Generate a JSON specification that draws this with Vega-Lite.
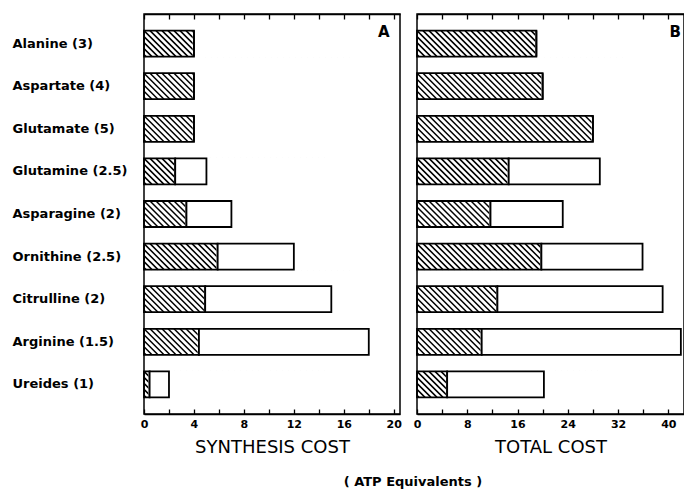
{
  "$schema": "https://vega.github.io/schema/vega-lite/v6.json",
  "padding": {"left": 11, "top": 12, "right": 0, "bottom": 0},
  "background": "white",
  "datasets": {
    "amino": [
      {"name": "Alanine (3)", "synth_h": 4, "synth_t": 4, "total_h": 19, "total_t": 19},
      {"name": "Aspartate (4)", "synth_h": 4, "synth_t": 4, "total_h": 20, "total_t": 20},
      {"name": "Glutamate (5)", "synth_h": 4, "synth_t": 4, "total_h": 28, "total_t": 28},
      {"name": "Glutamine (2.5)", "synth_h": 2.5, "synth_t": 5, "total_h": 14.6, "total_t": 29.1},
      {"name": "Asparagine (2)", "synth_h": 3.4, "synth_t": 7, "total_h": 11.7, "total_t": 23.2},
      {"name": "Ornithine (2.5)", "synth_h": 5.9, "synth_t": 12, "total_h": 19.8, "total_t": 35.9},
      {"name": "Citrulline (2)", "synth_h": 4.9, "synth_t": 15, "total_h": 12.8, "total_t": 39.1},
      {"name": "Arginine (1.5)", "synth_h": 4.4, "synth_t": 18, "total_h": 10.3, "total_t": 42},
      {"name": "Ureides (1)", "synth_h": 0.45, "synth_t": 2, "total_h": 4.8, "total_t": 20.2}
    ]
  },
  "config": {
    "font": "DejaVu Sans",
    "view": {"stroke": "black", "strokeWidth": 1.5},
    "axis": {"grid": false, "domainColor": "black", "tickColor": "black", "labelColor": "black", "titleColor": "black", "domainWidth": 1.5, "tickWidth": 1.3}
  },
  "title": {"text": "( ATP Equivalents )", "orient": "bottom", "anchor": "middle", "font": "DejaVu Sans", "fontSize": 13, "fontWeight": "bold", "color": "black", "dx": 65, "offset": 19},
  "spacing": 9,
  "hconcat": [
    {
      "width": 256,
      "height": 400,
      "data": {"name": "amino"},
      "encoding": {
        "y": {"field": "name", "type": "nominal",
          "scale": {"domain": ["Alanine (3)", "Aspartate (4)", "Glutamate (5)", "Glutamine (2.5)", "Asparagine (2)", "Ornithine (2.5)", "Citrulline (2)", "Arginine (1.5)", "Ureides (1)"], "paddingInner": 0.39, "paddingOuter": 0.39},
          "axis": {"title": null, "domain": false, "ticks": false, "labelAlign": "left", "labelPadding": 132, "labelFont": "DejaVu Sans", "labelFontWeight": "bold", "labelFontSize": 13, "labelLimit": 200}
        }
      },
      "layer": [
        {
          "mark": {"type": "point", "shape": "M0,11L2,13M0,5L8,13M0,-1L14,13M0,-7L20,13M0,-13L26,13M6,-13L32,13M12,-13L38,13M18,-13L44,13M24,-13L50,13M30,-13L56,13M36,-13L62,13M42,-13L68,13M48,-13L74,13M54,-13L80,13M60,-13L86,13M66,-13L92,13M72,-13L98,13M78,-13L104,13M84,-13L110,13M90,-13L116,13M96,-13L122,13M102,-13L128,13M108,-13L134,13M114,-13L140,13M120,-13L146,13M126,-13L152,13M132,-13L158,13M138,-13L164,13M144,-13L170,13M150,-13L176,13M156,-13L182,13M162,-13L188,13M168,-13L194,13M174,-13L200,13M180,-13L206,13", "size": 4, "filled": false, "stroke": "black", "strokeWidth": 1.5, "opacity": 1, "clip": true},
          "encoding": {
            "x": {"datum": 0, "type": "quantitative", "scale": {"domain": [0, 20.5], "nice": false, "zero": true},
              "axis": {"orient": "bottom", "values": [0, 2, 4, 6, 8, 10, 12, 14, 16, 18, 20], "labelExpr": "datum.value % 4 === 0 ? datum.label : ''", "tickSize": -5, "labelPadding": 9, "labelFont": "DejaVu Sans", "labelFontWeight": "bold", "labelFontSize": 11, "labelFlush": false, "labelOverlap": false, "title": "SYNTHESIS COST", "titleFont": "DejaVu Sans", "titleFontSize": 18, "titleFontWeight": "normal", "titlePadding": 9}
            }
          }
        },
        {
          "mark": {"type": "bar", "fill": "white", "stroke": "white", "strokeWidth": 2.5},
          "encoding": {
            "x": {"field": "synth_h", "type": "quantitative", "scale": {"domain": [0, 20.5], "nice": false, "zero": true}, "axis": null},
            "x2": {"datum": 17}
          }
        },
        {
          "mark": {"type": "bar", "fillOpacity": 0, "stroke": "black", "strokeWidth": 1.8},
          "encoding": {
            "x": {"field": "synth_h", "type": "quantitative", "scale": {"domain": [0, 20.5], "nice": false, "zero": true},
              "axis": {"orient": "top", "values": [0, 2, 4, 6, 8, 10, 12, 14, 16, 18, 20], "labels": false, "tickSize": -5, "title": null}
            }
          }
        },
        {
          "mark": {"type": "bar", "fill": "white", "stroke": "black", "strokeWidth": 1.8},
          "encoding": {
            "x": {"field": "synth_h", "type": "quantitative", "scale": {"domain": [0, 20.5], "nice": false, "zero": true}, "axis": null},
            "x2": {"field": "synth_t"}
          }
        },
        {
          "data": {"values": [{"label": "A", "name": "Alanine (3)"}]},
          "mark": {"type": "text", "font": "DejaVu Sans", "fontWeight": "bold", "fontSize": 15, "color": "black", "dy": -12},
          "encoding": {
            "text": {"field": "label"},
            "x": {"datum": 19.2, "type": "quantitative", "scale": {"domain": [0, 20.5], "nice": false, "zero": true}, "axis": null}
          }
        }
      ]
    },
    {
      "width": 267,
      "height": 400,
      "data": {"name": "amino"},
      "encoding": {
        "y": {"field": "name", "type": "nominal",
          "scale": {"domain": ["Alanine (3)", "Aspartate (4)", "Glutamate (5)", "Glutamine (2.5)", "Asparagine (2)", "Ornithine (2.5)", "Citrulline (2)", "Arginine (1.5)", "Ureides (1)"], "paddingInner": 0.39, "paddingOuter": 0.39},
          "axis": null
        }
      },
      "layer": [
        {
          "mark": {"type": "point", "shape": "M0,11L2,13M0,5L8,13M0,-1L14,13M0,-7L20,13M0,-13L26,13M6,-13L32,13M12,-13L38,13M18,-13L44,13M24,-13L50,13M30,-13L56,13M36,-13L62,13M42,-13L68,13M48,-13L74,13M54,-13L80,13M60,-13L86,13M66,-13L92,13M72,-13L98,13M78,-13L104,13M84,-13L110,13M90,-13L116,13M96,-13L122,13M102,-13L128,13M108,-13L134,13M114,-13L140,13M120,-13L146,13M126,-13L152,13M132,-13L158,13M138,-13L164,13M144,-13L170,13M150,-13L176,13M156,-13L182,13M162,-13L188,13M168,-13L194,13M174,-13L200,13M180,-13L206,13", "size": 4, "filled": false, "stroke": "black", "strokeWidth": 1.5, "opacity": 1, "clip": true},
          "encoding": {
            "x": {"datum": 0, "type": "quantitative", "scale": {"domain": [0, 42.5], "nice": false, "zero": true},
              "axis": {"orient": "bottom", "values": [0, 4, 8, 12, 16, 20, 24, 28, 32, 36, 40], "labelExpr": "datum.value % 8 === 0 ? datum.label : ''", "tickSize": -5, "labelPadding": 9, "labelFont": "DejaVu Sans", "labelFontWeight": "bold", "labelFontSize": 11, "labelFlush": false, "labelOverlap": false, "title": "TOTAL  COST", "titleFont": "DejaVu Sans", "titleFontSize": 18, "titleFontWeight": "normal", "titlePadding": 9}
            }
          }
        },
        {
          "mark": {"type": "bar", "fill": "white", "stroke": "white", "strokeWidth": 2.5},
          "encoding": {
            "x": {"field": "total_h", "type": "quantitative", "scale": {"domain": [0, 42.5], "nice": false, "zero": true}, "axis": null},
            "x2": {"datum": 33.5}
          }
        },
        {
          "mark": {"type": "bar", "fillOpacity": 0, "stroke": "black", "strokeWidth": 1.8},
          "encoding": {
            "x": {"field": "total_h", "type": "quantitative", "scale": {"domain": [0, 42.5], "nice": false, "zero": true},
              "axis": {"orient": "top", "values": [0, 4, 8, 12, 16, 20, 24, 28, 32, 36, 40], "labels": false, "tickSize": -5, "title": null}
            }
          }
        },
        {
          "mark": {"type": "bar", "fill": "white", "stroke": "black", "strokeWidth": 1.8},
          "encoding": {
            "x": {"field": "total_h", "type": "quantitative", "scale": {"domain": [0, 42.5], "nice": false, "zero": true}, "axis": null},
            "x2": {"field": "total_t"}
          }
        },
        {
          "data": {"values": [{"label": "B", "name": "Alanine (3)"}]},
          "mark": {"type": "text", "font": "DejaVu Sans", "fontWeight": "bold", "fontSize": 15, "color": "black", "dy": -12},
          "encoding": {
            "text": {"field": "label"},
            "x": {"datum": 41.1, "type": "quantitative", "scale": {"domain": [0, 42.5], "nice": false, "zero": true}, "axis": null}
          }
        }
      ]
    }
  ]
}
